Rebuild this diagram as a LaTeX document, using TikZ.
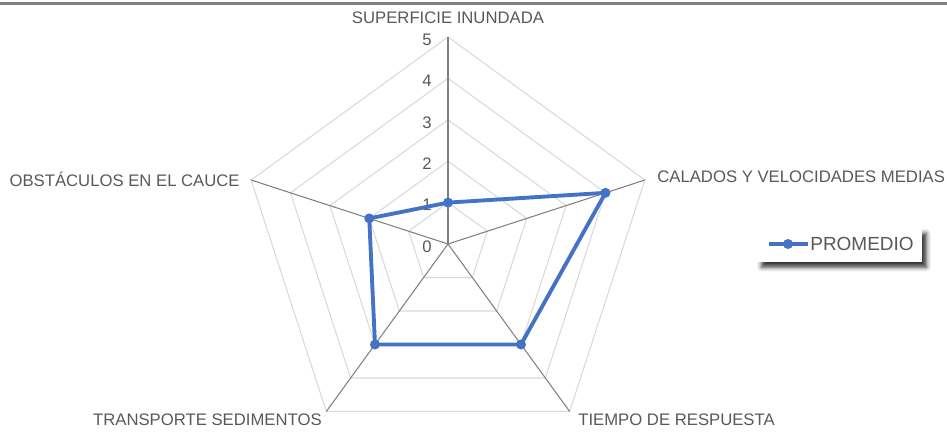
\documentclass[tikz,border=0pt]{standalone}
\usepackage{fontspec}
\setsansfont{Liberation Sans}
\usepackage{xcolor}
\usepackage{tikz}
\usetikzlibrary{arrows.meta, positioning, shadows.blur, calc}
\definecolor{seriesblue}{HTML}{4472C4}
\definecolor{gridgray}{HTML}{D9D9D9}
\definecolor{spokegray}{HTML}{808080}
\definecolor{labelgray}{HTML}{595959}

\begin{document}
\begin{tikzpicture}[
        font=\sffamily\fontsize{9.5}{11.4}\selectfont, % one base font for the chart
        radarlabel/.style={text=labelgray, inner sep=0pt},
        ticklabel/.style={text=labelgray, inner sep=0pt, anchor=east},
        gridline/.style={draw=gridgray, line width=0.6pt},
        spokeline/.style={draw=spokegray, line width=0.6pt},
        seriesline/.style={draw=seriesblue, line width=2.2pt, line join=round},
        seriesmark/.style={circle, fill=seriesblue, inner sep=0pt, minimum size=2mm},
    ]

    % --- INTERNAL FIGURE PARAMETERS ---
    \pgfmathsetmacro{\radarunit}{0.828}
    \pgfmathsetmacro{\radarmax}{5}
    \pgfmathsetmacro{\tickxshift}{-0.32}

    % Bounding box (centre of the radar at the origin)
    \useasboundingbox (-8.96,-3.78) rectangle (9.98,4.88);

    % Top rule
    \draw[spokegray, line width=2pt] (-8.96,4.81) -- (9.98,4.81);

    % Grid pentagons
    \foreach \lvl in {1,...,5}{
        \draw[gridline]
            (90:{\lvl*\radarunit}) -- (18:{\lvl*\radarunit}) --
            (-54:{\lvl*\radarunit}) -- (-126:{\lvl*\radarunit}) --
            (162:{\lvl*\radarunit}) -- cycle;
    }

    % Spokes
    \coordinate (centre) at (0,0);
    \foreach \k/\ang in {0/90, 1/18, 2/-54, 3/-126, 4/162}{
        \coordinate (axis\k) at (\ang:{\radarmax*\radarunit});
        \draw[spokeline] (centre) -- (axis\k);
    }

    % Tick labels on the vertical axis
    \foreach \lvl in {0,...,5}{
        \node[ticklabel] (tick\lvl) at ({\tickxshift},{\lvl*\radarunit-0.05}) {\lvl};
    }

    % Axis labels
    \node[radarlabel, anchor=base] (lblsup) at (0,4.4) {SUPERFICIE INUNDADA};
    \node[radarlabel, anchor=base west] (lblcal) at (4.18,1.24) {CALADOS Y VELOCIDADES MEDIAS};
    \node[radarlabel, anchor=base west] (lbltie) at (2.6,-3.62) {TIEMPO DE RESPUESTA};
    \node[radarlabel, anchor=base east] (lbltra) at (-2.52,-3.62) {TRANSPORTE SEDIMENTOS};
    \node[radarlabel, anchor=base east] (lblobs) at (-4.16,1.16) {OBSTÁCULOS EN EL CAUCE};

    % Series PROMEDIO
    \foreach \k/\ang/\val in {0/90/1, 1/18/4, 2/-54/3, 3/-126/3, 4/162/2}{
        \coordinate (p\k) at (\ang:{\val*\radarunit});
    }
    \draw[seriesline] (p0) -- (p1) -- (p2) -- (p3) -- (p4) -- cycle;
    \foreach \k in {0,...,4}{
        \node[seriesmark] (m\k) at (p\k) {};
    }

    % Legend
    \node[draw=none, fill=white, minimum width=3.3cm, minimum height=0.68cm,
        blur shadow={shadow xshift=2.5pt, shadow yshift=-3pt, shadow blur radius=2.5pt, shadow opacity=80}]
        (legendbox) at (7.83,-0.02) {};
    \coordinate (legstart) at (6.42,0);
    \coordinate (legend) at (7.2,0);
    \draw[seriesline] (legstart) -- (legend);
    \node[seriesmark] (legmark) at (6.8,0) {};
    \node[radarlabel, anchor=west, font=\sffamily\fontsize{10.8}{13}\selectfont] (legtext) at (7.24,0) {PROMEDIO};

\end{tikzpicture}
\end{document}
